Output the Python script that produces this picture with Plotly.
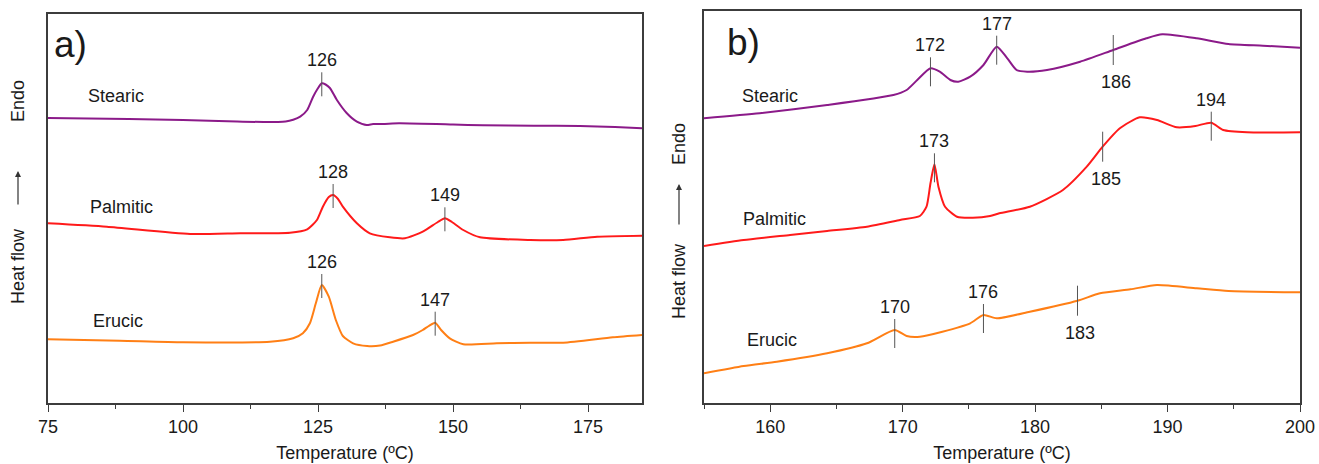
import numpy as np
import plotly.graph_objects as go

# ---------------- data (heat flow in arbitrary units) ----------------
# Panel a)
a_stearic_T = [75, 90, 100, 110, 115, 119, 120.4, 121.7, 123.0, 124.1, 124.9, 125.7, 126.4, 127.2, 128.5,
               130.3, 132.2, 134.0, 135.2, 137, 140, 150, 155.5, 165, 173.5, 180, 185]
a_stearic_H = [285, 284, 283, 281.5, 281, 281.6, 283.3, 286.3, 293, 306.3, 314, 319.7, 318.5, 315, 303,
               290, 281.3, 278, 279, 279, 279.7, 278.5, 277.7, 277.3, 277, 276, 274.7]

a_palmitic_T = [75, 85.9, 101.3, 110.6, 119.8, 123.0, 124.8, 125.9, 127.0, 127.8, 128.7, 129.6, 132.2, 134.6,
                138.3, 141.1, 144.4, 147.2, 148.5, 149.8, 151.9, 155.0, 164.3, 170.4, 176.7, 185]
a_palmitic_H = [179.7, 176.3, 169, 169.7, 170.3, 173.7, 183, 196.3, 206, 208, 204, 196.3, 179.7, 169.7,
                165.7, 164.7, 171.3, 181, 184.7, 181, 173, 165.7, 163, 163, 166.3, 167.3]

a_erucic_T = [75, 88.3, 100, 116.1, 120.4, 122.2, 123.5, 124.6, 125.7, 127.0, 128.3, 129.6, 131.5, 134.1,
              136.5, 138.9, 142.6, 144.4, 145.5, 146.7, 147.8, 149.4, 151.9, 158.1, 164.3, 170.4, 179.6, 185]
a_erucic_H = [63.7, 62.3, 60.7, 61.3, 64.7, 69.7, 79.7, 99.7, 118, 106.3, 83, 67, 59.7, 57,
              57.5, 61.3, 68, 73, 77, 80.3, 73, 64.7, 58.7, 59.7, 60.3, 60.3, 65.7, 68]

# Panel b)
b_stearic_T = [155, 159.2, 164.3, 169.3, 170.3, 171.1, 172.1, 172.8, 173.6, 174.2, 175.1, 176.1, 177.1,
               177.9, 178.6, 179.4, 180.9, 183.4, 185.9, 188.4, 189.6, 192.2, 194.6, 197.2, 200]
b_stearic_H = [284.7, 289.7, 298, 308, 313, 323, 334.7, 331.3, 323, 321.3, 326.3, 338, 356.3,
               344.7, 333, 331.3, 333, 341.3, 353, 364.7, 368.7, 364.7, 359, 357.3, 355.3]

b_palmitic_T = [155, 158, 161.5, 164.3, 167.3, 169.8, 171.3, 171.8, 172.1, 172.4, 172.7, 173.2, 174.1,
                175.3, 176.6, 177.3, 179.6, 182.1, 183.9, 185.1, 186.4, 187.9, 189.2, 190.7, 192.1,
                193.3, 194.2, 196.0, 200]
b_palmitic_H = [157, 163, 168, 172, 176.3, 183, 187, 196.3, 219.7, 238.7, 216.3, 196.3, 186.3,
                185.3, 187, 189.7, 196.3, 213, 236.3, 256.3, 274.7, 285.7, 283, 275.7, 277,
                280.3, 273, 270.7, 270.7]

b_erucic_T = [155, 158, 160.5, 164.3, 167.3, 169.4, 170.3, 171.3, 173.0, 175.1, 176.1, 177.1, 179.6,
              183.2, 184.9, 187.2, 189.2, 192.2, 194.6, 200]
b_erucic_H = [29.7, 37, 41.3, 49.7, 59.7, 73, 67, 66.3, 71.3, 79.7, 88, 84.7, 91.3,
              102.3, 109.7, 113.7, 118, 114.7, 112, 110.7]

series_names = ["Stearic", "Palmitic", "Erucic"]
series_colors = ["#8b1a89", "#ff1a1a", "#ff7f15"]

# Peak / transition markers
peak_panel = ["a", "a", "a", "a", "a", "b", "b", "b", "b", "b", "b", "b", "b", "b"]
peak_series = [0, 1, 1, 2, 2, 0, 0, 0, 1, 1, 1, 2, 2, 2]
peak_T = [125.7, 127.8, 148.5, 125.7, 146.7, 172.1, 177.1, 185.9, 172.4, 185.1, 193.3, 169.4, 176.1, 183.2]
peak_label = ["126", "128", "149", "126", "147", "172", "177", "186", "173", "185", "194", "170", "176", "183"]
peak_side = ["up", "up", "up", "up", "up", "up", "up", "down", "up", "down", "up", "up", "up", "down"]

# ---------------- figure ----------------
W, H = 1319, 464
FONT = "Arial, Liberation Sans, sans-serif"
FS = 18
TXT = "#1a1a1a"
AX = "#3c3c3c"

def px_x(p):
    return p / W

def px_y(p):
    return 1 - p / H

fig = go.Figure()

data = {
    "a": [(a_stearic_T, a_stearic_H), (a_palmitic_T, a_palmitic_H), (a_erucic_T, a_erucic_H)],
    "b": [(b_stearic_T, b_stearic_H), (b_palmitic_T, b_palmitic_H), (b_erucic_T, b_erucic_H)],
}
axes = {"a": ("x", "y"), "b": ("x2", "y2")}

for panel in ["a", "b"]:
    xa, ya = axes[panel]
    for i, (T, Hf) in enumerate(data[panel]):
        fig.add_trace(go.Scatter(x=T, y=Hf, mode="lines", xaxis=xa, yaxis=ya,
                                 line=dict(color=series_colors[i], width=2, shape="spline", smoothing=0.6),
                                 showlegend=False, hoverinfo="skip"))

shapes = []
annotations = []
for pan, si, T, lab, side in zip(peak_panel, peak_series, peak_T, peak_label, peak_side):
    xs, ys = data[pan][si]
    yc = float(np.interp(T, xs, ys))
    xa, ya = axes[pan]
    if pan == "a":
        top, bot = yc + 11, yc - 13
    elif side == "up":
        top, bot = yc + 11, yc - 18
    else:
        top, bot = yc + 15, yc - 15
    shapes.append(dict(type="line", xref=xa, yref=ya, x0=T, x1=T, y0=bot, y1=top,
                       line=dict(color="#555555", width=1)))
    if side == "up":
        annotations.append(dict(x=T, y=top, xref=xa, yref=ya, text=lab, showarrow=False,
                                yanchor="bottom", font=dict(family=FONT, size=FS, color=TXT)))
    else:
        annotations.append(dict(x=T, y=bot, xref=xa, yref=ya, text=lab, showarrow=False,
                                yanchor="top", yshift=-5, xshift=3, font=dict(family=FONT, size=FS, color=TXT)))

# series name labels
name_pos = {"a": [(87.5, 307), (88.7, 196), (88.0, 82)],
            "b": [(160.0, 307), (160.3, 184), (160.1, 63)]}
for pan in ["a", "b"]:
    xa, ya = axes[pan]
    for i, (xp, yp) in enumerate(name_pos[pan]):
        annotations.append(dict(x=xp, y=yp, xref=xa, yref=ya, text=series_names[i], showarrow=False,
                                font=dict(family=FONT, size=FS, color=TXT)))

# panel letters
annotations.append(dict(x=px_x(52), y=px_y(44), xref="paper", yref="paper", text="a)", showarrow=False,
                        xanchor="left", yanchor="middle", font=dict(family=FONT, size=37, color=TXT)))
annotations.append(dict(x=px_x(725), y=px_y(43), xref="paper", yref="paper", text="b)", showarrow=False,
                        xanchor="left", yanchor="middle", font=dict(family=FONT, size=37, color=TXT)))

# y-axis titles: "Heat flow  ->  Endo"
for cx, endo_c, arr_head, arr_tail, hf_c in [(18, 101, 171, 206, 266), (679, 144, 184, 226, 281)]:
    annotations.append(dict(x=px_x(cx), y=px_y(endo_c), xref="paper", yref="paper", text="Endo",
                            textangle=-90, showarrow=False, xanchor="center", yanchor="middle",
                            font=dict(family=FONT, size=FS, color=TXT)))
    annotations.append(dict(x=px_x(cx), y=px_y(hf_c), xref="paper", yref="paper", text="Heat flow",
                            textangle=-90, showarrow=False, xanchor="center", yanchor="middle",
                            font=dict(family=FONT, size=FS, color=TXT)))
    annotations.append(dict(x=px_x(cx), y=px_y(arr_head), xref="paper", yref="paper", text="",
                            showarrow=True, ax=0, ay=arr_tail - arr_head, axref="pixel", ayref="pixel",
                            arrowhead=2, arrowsize=1, arrowwidth=1.2, arrowcolor="#333333"))

xcommon = dict(showline=True, mirror=True, linecolor=AX, linewidth=1.5, showgrid=False, zeroline=False,
               ticks="outside", ticklen=7, tickwidth=1.2, tickcolor=AX,
               tickfont=dict(family=FONT, size=FS, color=TXT),
               title=dict(text="Temperature (ºC)", font=dict(family=FONT, size=FS, color=TXT), standoff=10),
               automargin=False)
ycommon = dict(showline=True, mirror=True, linecolor=AX, linewidth=1.5, showgrid=False, zeroline=False,
               showticklabels=False, ticks="", automargin=False)

fig.update_layout(
    width=W, height=H,
    margin=dict(l=0, r=0, t=0, b=0),
    paper_bgcolor="white", plot_bgcolor="white",
    xaxis=dict(domain=[px_x(48), px_x(642)], range=[75, 185], tick0=75, dtick=25, anchor="y",
               minor=dict(ticks="outside", ticklen=4, tick0=75, dtick=12.5, tickcolor=AX, tickwidth=1.2),
               **xcommon),
    yaxis=dict(domain=[px_y(403), px_y(14)], range=[0, 389], anchor="x", **ycommon),
    xaxis2=dict(domain=[px_x(704), px_x(1300)], range=[155, 200], tick0=160, dtick=10, anchor="y2",
                minor=dict(ticks="outside", ticklen=4, tick0=155, dtick=5, tickcolor=AX, tickwidth=1.2),
                **xcommon),
    yaxis2=dict(domain=[px_y(403), px_y(11)], range=[0, 392], anchor="x2", **ycommon),
    shapes=shapes,
    annotations=annotations,
)

fig.write_html("out.html", config={"displayModeBar": False},
               post_script="document.body.style.margin='0';document.body.style.overflow='hidden';")
